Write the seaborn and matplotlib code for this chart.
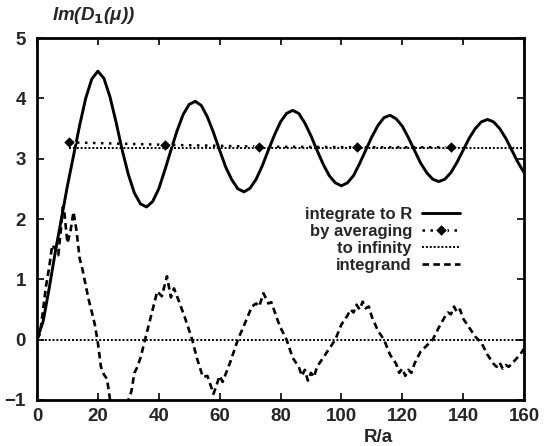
import numpy as np
import pandas as pd
import matplotlib
matplotlib.use("Agg")
import matplotlib.pyplot as plt
import seaborn as sns

# values
r_solid = [0, 2, 4, 6, 8, 10, 12, 14, 16, 18, 20, 22, 24, 26, 28, 30, 32, 34, 36, 38,
           40, 42, 44, 46, 48, 50, 52, 54, 56, 58, 60, 62, 64, 66, 68, 70, 72, 74, 76, 78,
           80, 82, 84, 86, 88, 90, 92, 94, 96, 98, 100, 102, 104, 106, 108, 110, 112, 114, 116, 118,
           120, 122, 124, 126, 128, 130, 132, 134, 136, 138, 140, 142, 144, 146, 148, 150, 152, 154, 156, 158, 160]
integrate_to_r = [0.0, 0.3, 0.85, 1.45, 2.0, 2.55, 3.05, 3.55, 4.0, 4.32, 4.45, 4.33, 4.02, 3.6, 3.14, 2.74, 2.43, 2.25, 2.2, 2.29,
                  2.5, 2.81, 3.14, 3.46, 3.73, 3.9, 3.95, 3.88, 3.69, 3.43, 3.14, 2.86, 2.65, 2.5, 2.45, 2.51, 2.66, 2.88, 3.14, 3.39,
                  3.61, 3.75, 3.8, 3.75, 3.59, 3.38, 3.14, 2.91, 2.72, 2.6, 2.55, 2.6, 2.72, 2.92, 3.14, 3.36, 3.55, 3.68, 3.72, 3.66,
                  3.54, 3.35, 3.14, 2.93, 2.77, 2.66, 2.62, 2.66, 2.77, 2.94, 3.14, 3.34, 3.5, 3.61, 3.65, 3.61, 3.5, 3.34, 3.14, 2.94, 2.77]

r_avg = [10.5, 42, 73, 105, 136]
by_averaging = [3.27, 3.23, 3.2, 3.19, 3.19]

r_inf = [10.5, 160]
to_infinity = [3.17, 3.17]

r_int = [0, 1, 2, 3, 4, 5, 6, 7, 8, 8.5, 9, 10, 11, 12, 13, 14, 15, 16, 17, 18, 19, 20, 21, 22, 23, 24,
         25, 26, 27, 28, 29, 30, 31, 32, 33, 34, 35.5, 37, 38, 39.5, 41, 42.7, 44, 45, 46.3, 48.5, 51, 52.5,
         54.5, 56, 57, 58, 60, 61, 63.5, 66, 68.3, 70.6, 72, 73, 74.4, 76, 77, 79, 80, 82, 84, 86, 87, 88,
         89, 90, 91, 92, 94, 96, 98, 100, 102, 103, 104, 105, 106, 107, 108, 109, 110, 112, 114, 116, 118,
         119, 120, 121, 122, 123, 124, 126, 128, 130, 132, 134, 135, 136, 137, 138, 139, 140, 142, 144, 146,
         148, 150, 151, 152, 153, 154, 155, 156.5, 158.7, 160]
integrand = [0.0, 0.1, 0.5, 0.9, 1.2, 1.57, 1.5, 1.4, 1.9, 2.2, 2.1, 1.6, 1.8, 2.12, 1.8, 1.35, 1.15, 0.9, 0.66, 0.46, 0.25, -0.05, -0.45, -0.58, -0.65, -1.0,
             -1.15, -1.2, -1.05, -1.25, -1.1, -1.0, -0.86, -0.55, -0.45, -0.3, 0.0, 0.3, 0.5, 0.8, 0.72, 1.05, 0.7, 0.85, 0.68, 0.38, 0.0, -0.3,
             -0.62, -0.6, -0.75, -0.9, -0.6, -0.7, -0.37, 0.0, 0.27, 0.55, 0.6, 0.55, 0.77, 0.6, 0.62, 0.33, 0.2, 0.0, -0.3, -0.45, -0.6, -0.5,
             -0.68, -0.55, -0.62, -0.45, -0.3, -0.15, 0.0, 0.25, 0.4, 0.5, 0.45, 0.58, 0.5, 0.63, 0.52, 0.55, 0.38, 0.15, 0.0, -0.25, -0.4,
             -0.55, -0.48, -0.6, -0.5, -0.55, -0.4, -0.2, -0.1, 0.0, 0.2, 0.38, 0.45, 0.42, 0.55, 0.45, 0.5, 0.35, 0.2, 0.05, -0.05,
             -0.25, -0.4, -0.45, -0.38, -0.48, -0.42, -0.45, -0.37, -0.25, -0.15]

x_ticks = [0, 20, 40, 60, 80, 100, 120, 140, 160]
y_ticks = [-1, 0, 1, 2, 3, 4, 5]

sns.set_style("ticks")
plt.rcParams["font.family"] = ["Liberation Sans", "DejaVu Sans"]
plt.rcParams["font.weight"] = "bold"

fig = plt.figure(figsize=(5.47, 4.46), dpi=100)
ax = fig.add_axes([37 / 547, 1 - 400 / 446, 487 / 547, 362 / 446])

sns.lineplot(x=r_solid, y=integrate_to_r, ax=ax, color="black", linewidth=2.1,
             label="integrate to R")
sns.lineplot(x=r_avg, y=by_averaging, ax=ax, color="black", linewidth=1.8,
             linestyle=(0, (1, 2.2)), marker="D", markersize=6.5, label="by averaging")
sns.lineplot(x=r_inf, y=to_infinity, ax=ax, color="black", linewidth=1.4,
             linestyle=(0, (1, 1.0)), label="to infinity")
sns.lineplot(x=r_int, y=integrand, ax=ax, color="black", linewidth=1.9,
             linestyle=(0, (2.5, 1.6)), label="integrand")
ax.axhline(0, color="black", linewidth=1.4, linestyle=(0, (1, 1.0)))

ax.set_xlim(0, 160)
ax.set_ylim(-1, 5)
ax.set_xticks(x_ticks)
ax.set_yticks(y_ticks)
ax.tick_params(direction="in", length=5, width=1.4, top=True, right=True,
               labelsize=13.5)
ax.tick_params(axis="x", pad=6)
ax.tick_params(axis="y", pad=8)
for lab in ax.get_xticklabels() + ax.get_yticklabels():
    lab.set_fontweight("bold")
for s in ax.spines.values():
    s.set_linewidth(2.0)
    s.set_color("black")

ax.set_xlabel("")
ax.set_ylabel("")
fig.text(378 / 547, 1 - 437 / 446, "R/a", ha="center", va="center",
         fontsize=13.5, fontweight="bold")
fig.text(52 / 547, 1 - 15 / 446, r"Im(D$_\mathbf{1}$(μ))", ha="left", va="center",
         fontsize=13.5, fontweight="bold", fontstyle="italic")

leg = ax.legend(loc="upper right", bbox_to_anchor=(0.9, 0.575), frameon=False,
                markerfirst=False, handlelength=2.3, handletextpad=0.6,
                labelspacing=0.12, fontsize=12)
for t in leg.get_texts():
    t.set_fontweight("bold")
    t.set_ha("right")
leg._legend_box.align = "right"

fig.savefig("out.png", dpi=100)
